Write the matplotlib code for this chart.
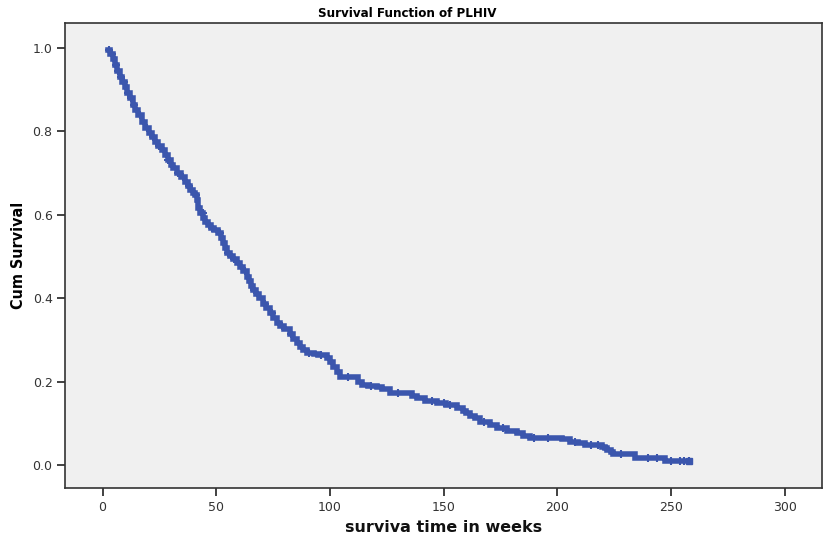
import numpy as np
import matplotlib
matplotlib.use("Agg")
import matplotlib.pyplot as plt

# Kaplan-Meier estimate: event times (weeks) and survival just after each time
event_times = [2.5, 3.5, 4.5, 5.5, 6.5, 7.6, 8.7, 9.9, 10.8, 12.1, 13.2, 14.5, 15.8,
               17.2, 18.7, 20.5, 21.8, 23.1, 24.5, 26.0, 27.5, 28.8, 30.0, 31.2, 32.8,
               34.5, 36.3, 37.5, 38.5, 39.7, 40.7, 41.5, 42.1, 43.0, 44.2, 45.3, 46.5,
               47.5, 49.0, 50.9, 52.0, 53.1, 54.0, 54.6, 56.0, 57.5, 59.0, 60.5, 61.8,
               63.4, 64.5, 65.5, 66.3, 67.5, 69.0, 70.7, 72.0, 73.7, 75.0, 76.6, 78.0,
               80.0, 82.5, 84.0, 85.5, 86.9, 88.0, 89.8, 93.0, 95.0, 98.6, 100.0, 101.5,
               103.0, 104.5, 112.5, 114.0, 117.0, 120.6, 123.0, 126.5, 136.0, 138.2,
               142.0, 147.0, 151.0, 155.8, 158.5, 160.0, 161.7, 164.0, 166.0, 170.5,
               173.4, 178.0, 182.2, 185.0, 188.0, 202.0, 205.7, 209.0, 212.3, 219.5,
               221.0, 221.8, 223.5, 224.7, 234.3, 247.4]
survival = [0.995, 0.985, 0.972, 0.958, 0.945, 0.930, 0.918, 0.905, 0.892, 0.879, 0.862,
            0.850, 0.839, 0.822, 0.807, 0.795, 0.786, 0.775, 0.765, 0.754, 0.743, 0.730,
            0.720, 0.711, 0.700, 0.690, 0.679, 0.668, 0.659, 0.652, 0.647, 0.635, 0.615,
            0.603, 0.592, 0.583, 0.575, 0.568, 0.562, 0.556, 0.543, 0.531, 0.520, 0.507,
            0.500, 0.494, 0.484, 0.475, 0.464, 0.451, 0.440, 0.428, 0.419, 0.410, 0.400,
            0.387, 0.376, 0.364, 0.352, 0.340, 0.332, 0.326, 0.314, 0.302, 0.292, 0.282,
            0.275, 0.268, 0.266, 0.263, 0.256, 0.248, 0.236, 0.224, 0.212, 0.200, 0.192,
            0.190, 0.187, 0.182, 0.173, 0.166, 0.160, 0.154, 0.148, 0.144, 0.136, 0.130,
            0.125, 0.118, 0.112, 0.104, 0.096, 0.088, 0.082, 0.076, 0.070, 0.066, 0.062,
            0.056, 0.052, 0.048, 0.044, 0.040, 0.036, 0.031, 0.026, 0.016, 0.010]
last_time = 258.0

# censored observations
censored = [3, 4, 5.8, 7, 8.2, 9.4, 11, 12.5, 14, 16.5, 19.5, 22, 25, 29, 33, 35.5, 38,
            41, 44, 48, 51.5, 55, 58, 62.5, 66.8, 71.5, 74.5, 79, 83, 91, 96, 108, 118,
            130, 145, 150, 153, 168, 176, 190, 196, 208, 215, 218, 228, 240, 244, 250,
            254, 256, 258]

blue = "#3b56ad"

fig = plt.figure(figsize=(8.26, 5.5), dpi=100)
ax = fig.add_axes([0.0787, 0.1127, 0.9165, 0.8455])
ax.set_facecolor("#f0f0f0")

t = np.array(event_times + [last_time])
s = np.array(survival + [survival[-1]])
ax.step(t, s, where="post", color=blue, lw=4, solid_joinstyle="miter")

# survival level at each censored time
idx = np.searchsorted(t, censored, side="right") - 1
idx = np.clip(idx, 0, len(s) - 1)
ax.plot(censored, s[idx], "+", color=blue, ms=6, mew=1.5)
ax.plot([last_time], [s[-1]], "s", color=blue, ms=4.5)

ax.set_xlim(-16.5, 316.5)
ax.set_ylim(-0.055, 1.059)
ax.set_xticks([0, 50, 100, 150, 200, 250, 300])
ax.set_yticks([0.0, 0.2, 0.4, 0.6, 0.8, 1.0])
ax.set_yticklabels(["0.0", "0.2", "0.4", "0.6", "0.8", "1.0"])
ax.tick_params(direction="out", length=6, width=1.3, color="#333333",
               labelsize=9, labelcolor="#333333", pad=3)

for sp in ax.spines.values():
    sp.set_color("#333333")
    sp.set_linewidth(1.2)

narrow = ["Liberation Sans Narrow", "DejaVu Sans"]
ax.set_title("Survival Function of PLHIV", fontsize=9.5, fontweight="bold",
             family=narrow, fontstretch="condensed", x=0.452, pad=4)
ax.set_ylabel("Cum Survival", fontsize=11.5, fontweight="bold", family=narrow,
              fontstretch="condensed", labelpad=5)
ax.set_xlabel("surviva time in weeks", fontsize=11.5, fontweight="bold",
              color="#111111", labelpad=5)

fig.savefig("out.png", dpi=100)
